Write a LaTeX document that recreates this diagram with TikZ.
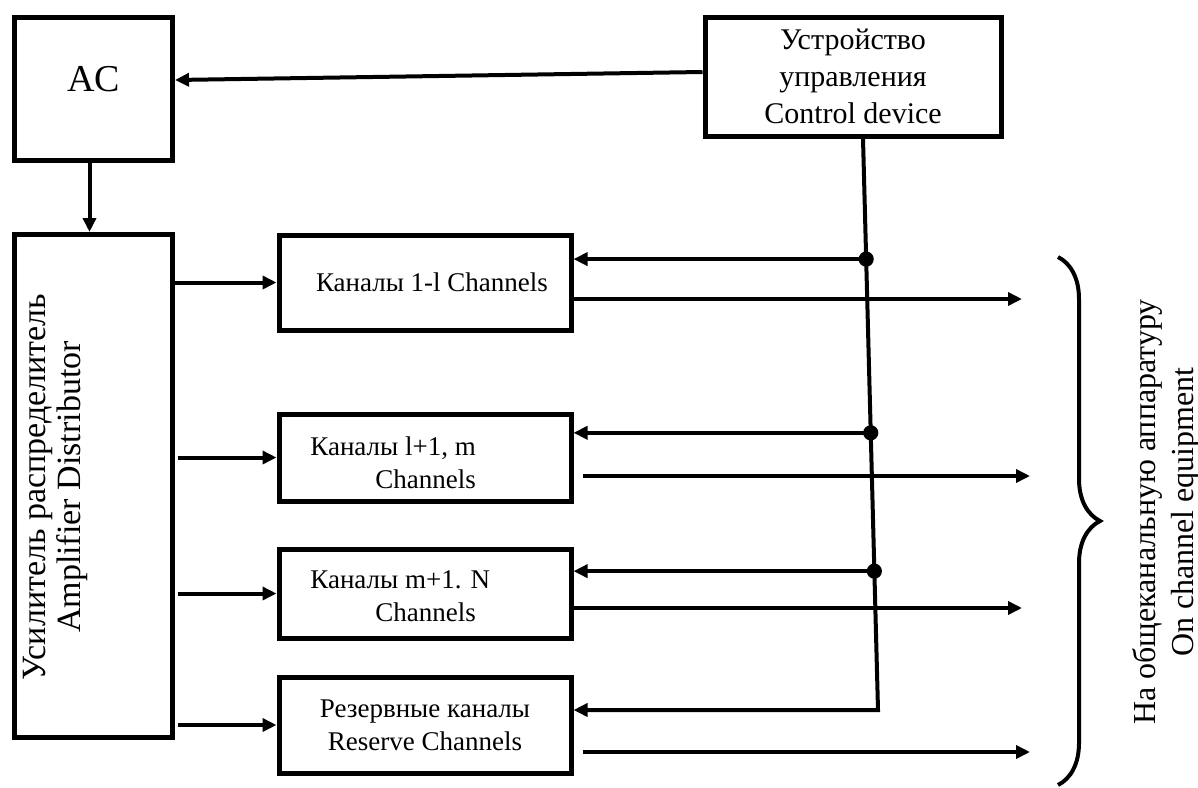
\documentclass[tikz,border=0pt]{standalone}
\usepackage{fontspec}
\setmainfont{Liberation Serif}
\usetikzlibrary{arrows.meta,calc,decorations.pathreplacing}

\begin{document}
\begin{tikzpicture}[x=0.5pt,y=-0.5pt,
	box/.style={draw,line width=2.5pt,inner sep=0pt},
	chbox/.style={box,minimum width=146pt,font=\fontsize{13.5}{16.5}\selectfont,align=center},
	lbl/.style={inner sep=0pt,font=\fontsize{13.5}{16.5}\selectfont,align=left},
	link/.style={line width=2pt,-{Triangle[length=7pt,width=6.5pt]}},
	dot/.style={fill,circle,inner sep=0pt,minimum size=7.6pt}]
	\useasboundingbox (0,0) rectangle (1198,787);

	\node[box,minimum width=79pt,minimum height=71.5pt,font=\fontsize{19}{22}\selectfont,text depth=10pt] (ac) at (93.5,88.5) {AC};
	\node[box,minimum width=79pt,minimum height=251.5pt] (amp) at (93.5,486) {};
	\node[inner sep=0pt,rotate=90,align=center,font=\fontsize{17}{17.5}\selectfont] (amptxt) at (55,487) {Усилитель распределитель\\Amplifier Distributor};
	\node[box,minimum width=148pt,minimum height=59.5pt,align=center,font=\fontsize{15}{18.5}\selectfont] (ctrl) at (853,76.5) {Устройство\\управления\\Control device};

	\node[chbox,minimum height=47.5pt] (ch1) at (425,282.5) {\hspace*{7pt}Каналы 1-l Channels};
	\node[chbox,minimum height=43.5pt] (ch2) at (425,457.5) {};
	\node[chbox,minimum height=44.5pt] (ch3) at (425,593.5) {};
	\node[chbox,minimum height=48pt] (ch4) at (425,725) {Резервные каналы\\Reserve Channels};
	\node[lbl,anchor=west] (ch2txt) at (310,462.5) {Каналы l+1, m\\\hspace*{32.5pt}Channels};
	\node[lbl,anchor=west] (ch3txt) at (310,596) {Каналы m+1. N\\\hspace*{32.5pt}Channels};

	\draw[link] ([yshift=2.25pt]ctrl.west) -- ([yshift=4.25pt]ac.east);
	\draw[link] ([xshift=-2pt]ac.south) -- ([xshift=-2pt]amp.north);

	\draw[link] (amp.east |- ch1.west) -- (ch1.west);
	\foreach \c in {ch2,ch3,ch4}
		\draw[link] ($(amp.east |- \c.west)+(3,0)$) -- (\c.west);

	\coordinate (cs) at ([xshift=5pt]ctrl.south);
	\coordinate (cend) at (878,710);
	\draw[link] (cs) -- (cend) -- (cend -| ch4.east);
	\coordinate (d1) at ($(cs)!0.211!(cend)$);
	\coordinate (d2) at ($(cs)!0.515!(cend)$);
	\coordinate (d3) at ($(cs)!0.757!(cend)$);
	\draw[link] (d1) -- (d1 -| ch1.east);
	\draw[link] (d2) -- (d2 -| ch2.east);
	\draw[link] (d3) -- (d3 -| ch3.east);
	\node[dot] (j1) at (d1) {};
	\node[dot] (j2) at (d2) {};
	\node[dot] (j3) at (d3) {};

	\coordinate (o1) at (1022,299);
	\coordinate (o2) at (1030,476);
	\coordinate (o3) at (1022,608);
	\coordinate (o4) at (1030,752);
	\draw[link] (o1 -| ch1.east) -- (o1);
	\draw[link] ($(o2 -| ch2.east)+(9,0)$) -- (o2);
	\draw[link] (o3 -| ch3.east) -- (o3);
	\draw[link] ($(o4 -| ch4.east)+(9,0)$) -- (o4);

	\draw[line width=2pt,decorate,decoration={brace,amplitude=21pt}] (1058,257) -- (1058,785);
	\node[inner sep=0pt,rotate=90,align=center,font=\fontsize{16}{19}\selectfont] (eqtxt) at (1166,512) {На общеканальную аппаратуру\\On channel equipment};
\end{tikzpicture}
\end{document}
